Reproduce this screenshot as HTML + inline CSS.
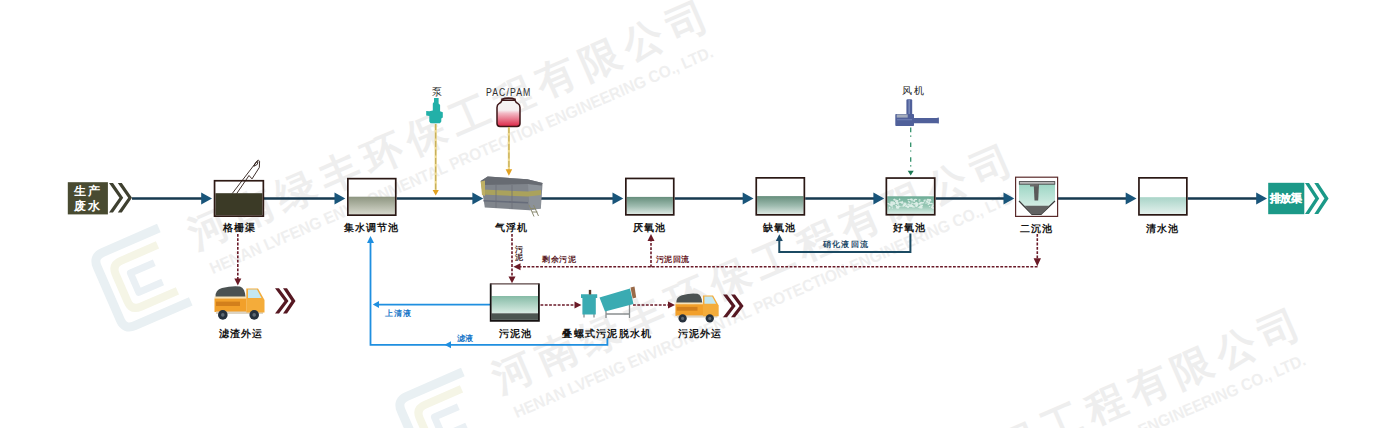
<!DOCTYPE html>
<html><head><meta charset="utf-8">
<style>
html,body{margin:0;padding:0;background:#fff;width:1400px;height:428px;overflow:hidden}
svg{position:absolute;left:0;top:0;display:block}
text{font-family:"Liberation Sans",sans-serif}
.lb{font-size:10px;font-weight:bold;fill:#151515;letter-spacing:1px;stroke:none}
.sm{font-size:7.5px;font-weight:bold}
</style></head><body>
<svg width="1400" height="428" viewBox="0 0 1400 428">
<defs>
  <linearGradient id="gTank1" x1="0" y1="0" x2="0" y2="1">
    <stop offset="0" stop-color="#8d9580"/><stop offset="1" stop-color="#d6d8cc"/>
  </linearGradient>
  <linearGradient id="gTank2" x1="0" y1="0" x2="0" y2="1">
    <stop offset="0" stop-color="#668e7c"/><stop offset="0.55" stop-color="#9fbcb0"/><stop offset="1" stop-color="#dce8e2"/>
  </linearGradient>
  <linearGradient id="gClear" x1="0" y1="0" x2="0" y2="1">
    <stop offset="0" stop-color="#a9d4c8"/><stop offset="1" stop-color="#e4f1ed"/>
  </linearGradient>
  <linearGradient id="gSludge" x1="0" y1="0" x2="0" y2="1">
    <stop offset="0" stop-color="#86bba6"/><stop offset="1" stop-color="#d9ece4"/>
  </linearGradient>
  <linearGradient id="gJar" x1="0" y1="0" x2="0" y2="1">
    <stop offset="0" stop-color="#f4f4f4"/><stop offset="0.38" stop-color="#f6eef0"/><stop offset="0.5" stop-color="#f2b8c4"/><stop offset="1" stop-color="#dc2646"/>
  </linearGradient>
  <linearGradient id="gSed" x1="0" y1="0" x2="0" y2="1">
    <stop offset="0" stop-color="#9cd6c4"/><stop offset="1" stop-color="#e8f5f0"/>
  </linearGradient>
  <linearGradient id="gAer" x1="0" y1="0" x2="0" y2="1">
    <stop offset="0" stop-color="#6aa892"/><stop offset="0.15" stop-color="#7ab6a0"/><stop offset="0.6" stop-color="#9ccab8"/><stop offset="1" stop-color="#dcefe8"/>
  </linearGradient>
</defs>

<!-- ===== WATERMARKS (placeholder) ===== -->
<g id="wm">
<g transform="translate(209 228) rotate(-23.5)">
  <text x="-20" y="14.5" style="font-size:40px;font-weight:bold;letter-spacing:7.3px;fill:#eeeeee">河南绿丰环保工程有限公司</text>
  <text x="-15" y="44" textLength="547" lengthAdjust="spacingAndGlyphs" style="font-size:16.5px;font-weight:bold;fill:#efefef">HENAN LVFENG ENVIRONMENTAL PROTECTION ENGINEERING CO., LTD.</text>
  <g fill="none" stroke-linejoin="round" transform="translate(-80 20)">
    <path d="M34 -40H-27Q-38 -40 -38 -29V29Q-38 40 -27 40H34" stroke="#e9f0f3" stroke-width="9"/>
    <path d="M26 -25H-14Q-24 -25 -24 -15V15Q-24 25 -14 25H26" stroke="#f5f5e6" stroke-width="8"/><path d="M16 -10H-10V11H16" stroke="#eaf0f4" stroke-width="7"/>
  </g>
</g>
<g transform="translate(513 372) rotate(-23.5)">
  <text x="-20" y="14.5" style="font-size:40px;font-weight:bold;letter-spacing:7.3px;fill:#eeeeee">河南绿丰环保工程有限公司</text>
  <text x="-15" y="44" textLength="547" lengthAdjust="spacingAndGlyphs" style="font-size:16.5px;font-weight:bold;fill:#efefef">HENAN LVFENG ENVIRONMENTAL PROTECTION ENGINEERING CO., LTD.</text>
  <g fill="none" stroke-linejoin="round" transform="translate(-80 20)">
    <path d="M34 -40H-27Q-38 -40 -38 -29V29Q-38 40 -27 40H34" stroke="#e9f0f3" stroke-width="9"/>
    <path d="M26 -25H-14Q-24 -25 -24 -15V15Q-24 25 -14 25H26" stroke="#f5f5e6" stroke-width="8"/><path d="M16 -10H-10V11H16" stroke="#eaf0f4" stroke-width="7"/>
  </g>
</g>
<g transform="translate(801.5 536) rotate(-23.5)">
  <text x="-20" y="14.5" style="font-size:40px;font-weight:bold;letter-spacing:7.3px;fill:#eeeeee">河南绿丰环保工程有限公司</text>
  <text x="-15" y="44" textLength="547" lengthAdjust="spacingAndGlyphs" style="font-size:16.5px;font-weight:bold;fill:#efefef">HENAN LVFENG ENVIRONMENTAL PROTECTION ENGINEERING CO., LTD.</text>
  <g fill="none" stroke-linejoin="round" transform="translate(-80 20)">
    <path d="M34 -40H-27Q-38 -40 -38 -29V29Q-38 40 -27 40H34" stroke="#e9f0f3" stroke-width="9"/>
    <path d="M26 -25H-14Q-24 -25 -24 -15V15Q-24 25 -14 25H26" stroke="#f5f5e6" stroke-width="8"/><path d="M16 -10H-10V11H16" stroke="#eaf0f4" stroke-width="7"/>
  </g>
</g>
</g>

<!-- ===== MAIN FLOW LINE ===== -->
<path d="M132 198.5H203M264 198.5H336.3M396.6 198.5H474.2M540 198.5H614.3M674.6 198.5H744.5M805.2 198.5H875.2M935.6 198.5H1005.3M1057.6 198.5H1127.5M1187.7 198.5H1258" stroke="#173a50" stroke-width="2.7" fill="none"/>
<g fill="#19557a">
  <path d="M201.2 192.4L212 198.5L201.2 204.6Z"/>
  <path d="M334.5 192.4L345.3 198.5L334.5 204.6Z"/>
  <path d="M472.4 192.4L483.2 198.5L472.4 204.6Z"/>
  <path d="M612.5 192.4L623.3 198.5L612.5 204.6Z"/>
  <path d="M742.7 192.4L753.5 198.5L742.7 204.6Z"/>
  <path d="M873.4 192.4L884.2 198.5L873.4 204.6Z"/>
  <path d="M1003.5 192.4L1014.3 198.5L1003.5 204.6Z"/>
  <path d="M1125.7 192.4L1136.5 198.5L1125.7 204.6Z"/>
  <path d="M1256.2 192.4L1267 198.5L1256.2 204.6Z"/>
</g>

<!-- ===== SOURCE: 生产废水 ===== -->
<rect x="67.8" y="182.2" width="40.1" height="32.2" fill="#494b31"/>
<text x="74.2" y="195.3" style="font-size:12px;font-weight:bold;fill:#fff;letter-spacing:1.6px">生产</text>
<text x="74.2" y="209.8" style="font-size:12px;font-weight:bold;fill:#fff;letter-spacing:1.6px">废水</text>
<g fill="#3f4030">
  <path d="M109 183H113L123.2 197.8L113 212.6H109L119.4 197.8Z"/>
  <path d="M117.8 183H121.8L132 197.8L121.8 212.6H117.8L128.2 197.8Z"/>
</g>

<!-- ===== 格栅渠 ===== -->
<rect x="215.4" y="193.2" width="47.1" height="22.1" fill="#3b3a26"/>
<rect x="214.55" y="180.75" width="48.80" height="35.40" fill="none" stroke="#2e1a14" stroke-width="1.7"/>
<g fill="none" stroke="#2a1a14" stroke-width="0.9">
  <path d="M232.3 193.4L256 162.5Q258 158.8 259.6 161.2L259.3 167.5L252 178.9L249 175.5L236.8 193.4"/>
  <path d="M253.8 166.3Q255.5 161 258 161.6Q258.6 164.8 253.8 166.3Z"/>
</g>
<text class="lb" x="222.7" y="231.1">格栅渠</text>

<!-- ===== 集水调节池 ===== -->
<rect x="348.7" y="196.7" width="46.2" height="17.6" fill="url(#gTank1)"/>
<rect x="347.85" y="178.65" width="47.90" height="36.50" fill="none" stroke="#2a1814" stroke-width="1.7"/>
<text class="lb" x="343.8" y="231.1">集水调节池</text>

<!-- ===== 泵 + PAC/PAM ===== -->
<text x="432.2" y="94.7" style="font-size:10px;fill:#222">泵</text>
<g fill="#22b0a8">
  <path d="M434 98H438.6V103.5L440.1 105V111.3L442.8 112.3V117.5L441.3 118.5V121.6L440 123.3H430.5L429.3 121.6V116L426.2 115.5V111L429.3 111.2L432.8 110.5V103.5L434 102Z"/>
</g>
<text transform="translate(486 95.6) scale(0.83 1)" x="0" y="0" style="font-size:10.5px;fill:#2e2e2e;letter-spacing:1.3px">PAC/PAM</text>
<path d="M502 100.3Q501.3 102.6 499 103.6Q497 104.6 497 107.5V123.5Q497 126.4 500 126.4H517Q520 126.4 520 123.5V107.5Q520 104.6 518 103.6Q515.7 102.6 515 100.3Z" fill="url(#gJar)" stroke="#3e1618" stroke-width="1.5"/>
<path d="M501.3 99.6Q508.5 96.8 515.7 99.6" fill="none" stroke="#3e1618" stroke-width="1.8"/>

<!-- dashed orange lines -->
<g fill="none">
  <path d="M435.7 124V190.5M508.9 127V170" stroke="#eed98e" stroke-width="2.2"/>
  <path d="M435.7 124V190.5M508.9 127V170" stroke="#b9a24c" stroke-width="0.9" stroke-dasharray="6 2.5"/>
</g>
<g fill="#e2a222">
  <path d="M432.6 190H438.8L435.7 195.5Z"/>
  <path d="M505.6 169.3H512.2L508.9 175.8Z"/>
</g>

<!-- ===== 气浮机 ===== -->
<g>
  <path d="M480.7 181.1L487.7 176.4L527.4 179.3L542.6 182.9L540.8 208.5L529.7 210.3L484.8 207.4Z" fill="#80858c"/>
  <path d="M528 184L541.5 185.5L540.8 208.5L529.7 210.3Z" fill="#8c9299"/>
  <path d="M480.7 181.1L487.7 176.4L527.4 179.3L542.6 182.9L541.5 185.5L528 184L482 185Z" fill="#676b72"/>
  <path d="M482 189.5L528 191.5L541 190V195L528 196.5L482 194.5Z" fill="#aaa25c"/>
  <path d="M480.7 181.5L485 180.5V196L482 195Z" fill="#bfb064"/>
  <path d="M483.5 200L528 202V203.6L483.5 201.6Z" fill="#666c7a"/>
  <path d="M496 185V207.8M512 185V208.8" stroke="#6c7078" stroke-width="0.8"/>
  <path d="M529 205L534 216.5M533.5 205L538.5 216M530.5 208.5H535.5M532 212H537.5" stroke="#8a8a70" stroke-width="1" fill="none"/>
</g>
<text class="lb" x="494.6" y="231.3">气浮机</text>

<!-- ===== 厌氧池 ===== -->
<rect x="626.7" y="196.9" width="46.2" height="17.1" fill="url(#gTank2)"/>
<rect x="625.85" y="178.45" width="47.90" height="36.40" fill="none" stroke="#2a1814" stroke-width="1.7"/>
<text class="lb" x="632.6" y="231.3">厌氧池</text>

<!-- ===== 缺氧池 ===== -->
<rect x="757.1" y="196.1" width="46.4" height="17.9" fill="url(#gTank2)"/>
<rect x="756.25" y="177.85" width="48.10" height="37.00" fill="none" stroke="#2a1814" stroke-width="1.7"/>
<text class="lb" x="763.4" y="231.3">缺氧池</text>

<!-- ===== 风机 ===== -->
<text x="902.2" y="94" style="font-size:9.5px;fill:#222;letter-spacing:1.5px">风机</text>
<g fill="#50609a">
  <path d="M906.4 100.5Q906.4 99.3 907.6 99.3H911Q912.2 99.3 912.2 100.5V115.3H906.4Z"/>
  <rect x="895.3" y="114" width="18.7" height="12" rx="0.8"/>
  <path d="M913.5 118H936.5L938.9 117.6V123.5L936.5 123.3H913.5Z"/>
</g>
<rect x="908.4" y="100" width="1.6" height="14" fill="#7888b8"/>
<rect x="896.7" y="114.4" width="11" height="3.2" fill="#a4acbc"/>
<rect x="897" y="119" width="15" height="1.3" fill="#6a7ab0"/>
<g stroke="#2f8f68" stroke-width="1.3" stroke-dasharray="4.6 3.4 1.2 5.6" fill="none"><path d="M910.7 127.6V171"/></g>
<path d="M907.7 170.8H913.7L910.7 175.5Z" fill="#1f7a55"/>

<!-- ===== 好氧池 ===== -->
<rect x="887.2" y="196.3" width="46.7" height="17.6" fill="url(#gAer)"/>
<g fill="#eef8f4" opacity="0.8"><ellipse cx="908.6" cy="204.2" rx="1.5" ry="0.8"/><ellipse cx="911.2" cy="204.5" rx="0.7" ry="0.8"/><ellipse cx="916.8" cy="206.3" rx="0.6" ry="0.6"/><ellipse cx="892.0" cy="206.4" rx="1.3" ry="0.4"/><ellipse cx="933.0" cy="207.8" rx="1.2" ry="0.9"/><ellipse cx="895.0" cy="199.4" rx="1.1" ry="0.4"/><ellipse cx="896.5" cy="201.4" rx="0.5" ry="0.8"/><ellipse cx="908.1" cy="206.7" rx="1.1" ry="0.9"/><ellipse cx="910.8" cy="205.1" rx="1.0" ry="0.6"/><ellipse cx="933.7" cy="208.1" rx="1.4" ry="1.0"/><ellipse cx="902.3" cy="201.3" rx="0.8" ry="0.5"/><ellipse cx="923.0" cy="202.8" rx="1.4" ry="0.7"/><ellipse cx="931.9" cy="206.8" rx="0.5" ry="0.6"/><ellipse cx="929.7" cy="203.4" rx="1.6" ry="0.7"/><ellipse cx="891.2" cy="204.8" rx="1.4" ry="0.6"/><ellipse cx="891.8" cy="202.2" rx="1.6" ry="1.0"/><ellipse cx="893.2" cy="201.5" rx="0.6" ry="0.4"/><ellipse cx="924.5" cy="200.9" rx="1.1" ry="0.8"/><ellipse cx="896.6" cy="205.7" rx="0.6" ry="0.9"/><ellipse cx="893.2" cy="203.0" rx="0.7" ry="0.6"/><ellipse cx="932.5" cy="206.4" rx="0.8" ry="1.1"/><ellipse cx="897.5" cy="202.8" rx="1.4" ry="0.9"/><ellipse cx="892.4" cy="208.0" rx="0.7" ry="0.6"/><ellipse cx="923.3" cy="202.2" rx="0.8" ry="0.5"/><ellipse cx="891.9" cy="204.4" rx="0.8" ry="0.9"/><ellipse cx="904.9" cy="203.3" rx="1.6" ry="0.8"/><ellipse cx="914.2" cy="206.9" rx="0.7" ry="0.5"/><ellipse cx="929.6" cy="206.5" rx="0.8" ry="0.6"/><ellipse cx="921.8" cy="207.6" rx="0.7" ry="1.2"/><ellipse cx="928.4" cy="204.6" rx="1.0" ry="0.5"/><ellipse cx="889.6" cy="207.8" rx="0.8" ry="1.0"/><ellipse cx="899.6" cy="206.5" rx="1.2" ry="0.6"/><ellipse cx="895.9" cy="205.6" rx="0.6" ry="0.6"/><ellipse cx="913.5" cy="206.8" rx="1.2" ry="0.6"/><ellipse cx="930.0" cy="201.1" rx="0.5" ry="0.6"/><ellipse cx="908.3" cy="199.8" rx="0.7" ry="0.7"/><ellipse cx="914.1" cy="200.5" rx="0.9" ry="1.1"/><ellipse cx="932.9" cy="205.1" rx="1.3" ry="0.9"/><ellipse cx="894.3" cy="199.6" rx="0.5" ry="1.1"/><ellipse cx="920.0" cy="207.8" rx="0.5" ry="0.9"/><ellipse cx="910.0" cy="205.7" rx="0.9" ry="1.2"/><ellipse cx="891.3" cy="204.1" rx="1.3" ry="1.1"/><ellipse cx="921.7" cy="205.5" rx="1.4" ry="1.1"/><ellipse cx="904.0" cy="205.3" rx="1.5" ry="1.1"/><ellipse cx="907.0" cy="206.3" rx="1.4" ry="0.9"/><ellipse cx="916.5" cy="202.7" rx="1.1" ry="0.9"/><ellipse cx="891.5" cy="204.9" rx="1.6" ry="1.1"/><ellipse cx="921.3" cy="202.7" rx="1.3" ry="0.9"/><ellipse cx="908.1" cy="206.7" rx="0.6" ry="1.0"/><ellipse cx="889.2" cy="204.6" rx="1.0" ry="0.6"/><ellipse cx="919.9" cy="203.7" rx="1.2" ry="1.1"/><ellipse cx="899.6" cy="199.4" rx="0.8" ry="0.9"/><ellipse cx="897.1" cy="200.8" rx="1.5" ry="0.9"/><ellipse cx="908.1" cy="207.1" rx="0.9" ry="0.9"/><ellipse cx="896.9" cy="203.1" rx="1.4" ry="1.1"/><ellipse cx="928.3" cy="202.7" rx="1.1" ry="0.7"/><ellipse cx="894.1" cy="203.7" rx="1.4" ry="1.1"/><ellipse cx="920.5" cy="207.7" rx="0.8" ry="0.5"/><ellipse cx="908.5" cy="201.7" rx="0.7" ry="0.7"/><ellipse cx="916.6" cy="203.6" rx="0.8" ry="1.1"/><ellipse cx="933.0" cy="203.3" rx="0.6" ry="0.4"/><ellipse cx="928.0" cy="199.7" rx="1.3" ry="0.9"/><ellipse cx="902.0" cy="206.3" rx="0.5" ry="0.5"/><ellipse cx="908.7" cy="199.5" rx="1.4" ry="0.6"/><ellipse cx="894.3" cy="199.7" rx="1.2" ry="0.8"/><ellipse cx="916.8" cy="205.1" rx="1.4" ry="1.2"/><ellipse cx="919.3" cy="201.1" rx="1.0" ry="0.5"/><ellipse cx="888.3" cy="203.5" rx="1.3" ry="0.5"/><ellipse cx="900.3" cy="202.3" rx="1.3" ry="0.8"/><ellipse cx="916.1" cy="206.0" rx="0.9" ry="1.0"/><ellipse cx="929.5" cy="200.1" rx="1.5" ry="1.0"/><ellipse cx="893.8" cy="203.3" rx="1.2" ry="1.1"/><ellipse cx="905.1" cy="204.3" rx="1.5" ry="1.0"/><ellipse cx="931.2" cy="203.4" rx="1.2" ry="0.6"/><ellipse cx="921.0" cy="206.5" rx="1.2" ry="1.0"/><ellipse cx="897.6" cy="207.2" rx="1.6" ry="1.2"/><ellipse cx="912.5" cy="206.3" rx="0.9" ry="1.1"/><ellipse cx="927.2" cy="202.4" rx="0.6" ry="0.8"/><ellipse cx="913.1" cy="206.1" rx="1.0" ry="0.4"/><ellipse cx="925.0" cy="199.9" rx="1.4" ry="0.5"/><ellipse cx="903.2" cy="206.2" rx="0.7" ry="0.5"/><ellipse cx="911.6" cy="205.7" rx="1.4" ry="1.0"/><ellipse cx="931.3" cy="203.6" rx="1.5" ry="0.5"/><ellipse cx="898.0" cy="203.9" rx="0.8" ry="1.0"/><ellipse cx="917.2" cy="203.9" rx="1.4" ry="0.8"/><ellipse cx="902.1" cy="202.7" rx="1.4" ry="1.1"/><ellipse cx="897.4" cy="206.8" rx="1.6" ry="0.8"/><ellipse cx="914.2" cy="201.1" rx="1.1" ry="0.8"/><ellipse cx="915.6" cy="199.5" rx="1.6" ry="0.8"/><ellipse cx="906.2" cy="206.3" rx="1.1" ry="0.8"/><ellipse cx="919.6" cy="199.9" rx="1.1" ry="0.7"/><ellipse cx="931.8" cy="207.4" rx="0.8" ry="0.8"/><ellipse cx="893.6" cy="203.1" rx="1.4" ry="1.1"/><ellipse cx="909.7" cy="202.1" rx="0.7" ry="0.9"/><ellipse cx="930.4" cy="200.4" rx="1.4" ry="0.4"/><ellipse cx="896.7" cy="201.3" rx="1.3" ry="0.7"/><ellipse cx="904.1" cy="204.8" rx="0.6" ry="1.0"/><ellipse cx="893.4" cy="203.8" rx="0.8" ry="0.6"/><ellipse cx="912.2" cy="203.1" rx="0.9" ry="0.7"/><ellipse cx="912.1" cy="200.7" rx="0.7" ry="0.9"/><ellipse cx="917.2" cy="204.0" rx="1.4" ry="0.9"/><ellipse cx="927.2" cy="201.3" rx="1.3" ry="1.0"/><ellipse cx="929.3" cy="202.1" rx="0.8" ry="1.1"/><ellipse cx="897.8" cy="208.1" rx="1.5" ry="0.5"/><ellipse cx="898.8" cy="205.7" rx="0.8" ry="0.5"/><ellipse cx="926.1" cy="203.0" rx="1.4" ry="0.5"/><ellipse cx="906.3" cy="205.3" rx="0.5" ry="0.6"/><ellipse cx="919.2" cy="207.3" rx="1.6" ry="0.5"/><ellipse cx="911.1" cy="206.0" rx="1.1" ry="0.9"/><ellipse cx="896.5" cy="199.9" rx="0.6" ry="0.4"/><ellipse cx="913.2" cy="203.8" rx="1.1" ry="0.5"/><ellipse cx="896.3" cy="201.1" rx="1.4" ry="1.2"/><ellipse cx="930.4" cy="200.1" rx="0.6" ry="1.2"/><ellipse cx="909.1" cy="206.0" rx="0.9" ry="0.8"/><ellipse cx="911.5" cy="203.1" rx="1.2" ry="0.4"/><ellipse cx="920.0" cy="206.7" rx="0.7" ry="0.8"/><ellipse cx="921.8" cy="202.9" rx="0.7" ry="0.5"/><ellipse cx="911.4" cy="199.4" rx="1.5" ry="1.0"/><ellipse cx="920.2" cy="206.9" rx="1.2" ry="0.7"/><ellipse cx="915.4" cy="203.7" rx="1.6" ry="1.0"/></g>
<rect x="886.35" y="178.05" width="48.40" height="36.70" fill="none" stroke="#2a1814" stroke-width="1.7"/>
<text class="lb" x="893.4" y="231.3">好氧池</text>

<!-- ===== 二沉池 ===== -->
<rect x="1015.6" y="177.2" width="42" height="39.2" fill="#fff" stroke="#5a2a2a" stroke-width="1.2"/>
<path d="M1019 184H1055V201L1041 214.3H1032L1019 201Z" fill="url(#gSed)"/>
<path d="M1019 201L1032 214.3H1041L1055 201" fill="none" stroke="#3a3a3a" stroke-width="1.2"/>
<path d="M1024.5 205.8H1049.5L1041 214.3H1032Z" fill="#626262"/>
<rect x="1019.3" y="181.6" width="35.5" height="2.6" fill="#b8b8b8" stroke="#3e3e3e" stroke-width="0.8"/>
<path d="M1033.7 184H1039L1038.2 200.5H1034.5Z" fill="#5a5a5a"/><rect x="1030" y="184.3" width="8" height="2.2" fill="#6a6a6a"/>
<text class="lb" x="1020" y="231.5">二沉池</text>

<!-- ===== 清水池 ===== -->
<rect x="1139.8" y="197.2" width="46.2" height="16.8" fill="url(#gClear)"/>
<rect x="1138.95" y="177.85" width="47.90" height="37.00" fill="none" stroke="#2a1814" stroke-width="1.7"/>
<text class="lb" x="1146" y="231.5">清水池</text>

<!-- ===== 排放渠 ===== -->
<rect x="1268.2" y="182.8" width="36.1" height="31.4" fill="#1b9988"/>
<text x="1269.7" y="202.2" style="font-size:11px;font-weight:bold;fill:#fff;letter-spacing:-0.2px;stroke:#fff;stroke-width:0.25px">排放渠</text>
<g fill="#1b9988">
  <path d="M1305 183H1309L1319.2 198.5L1309 214H1305L1315.2 198.5Z"/>
  <path d="M1314.3 183H1318.3L1328.6 198.5L1318.3 214H1314.3L1324.4 198.5Z"/>
</g>

<!-- ===== RED DASHED LINES ===== -->
<g stroke="#6a1a28" stroke-width="1.6" stroke-dasharray="2.8 1.5" fill="none">
  <path d="M237.8 234V279"/>
  <path d="M512 234V277"/>
  <path d="M1037.3 234V259"/>
  <path d="M1037.5 266.8H519"/>
  <path d="M651 267.2V240"/>
  <path d="M540.5 305H575"/>
  <path d="M633 305H668"/>
</g>
<g fill="#6a1a26">
  <path d="M234.3 278.5H241.3L237.8 285.5Z"/>
  <path d="M508.5 276.5H515.5L512 283.3Z"/>
  <path d="M1033.6 258.2H1041L1037.3 266.3Z"/>
  <path d="M520.5 263.3V270.3L513.4 266.8Z"/>
  <path d="M647.5 241H654.5L651 234Z"/>
  <path d="M574.5 301.5V308.5L581.4 305Z"/>
  <path d="M668 301.5V308.5L675 305Z"/>
</g>
<text class="sm" x="514.7" y="251.6" style="fill:#4a2e30;font-size:8px">污</text>
<text class="sm" x="514.7" y="260.3" style="fill:#4a2e30;font-size:8px">泥</text>
<text class="sm" x="542.3" y="261.9" style="fill:#5a1a26;letter-spacing:0.5px">剩余污泥</text>
<text class="sm" x="655.7" y="262.4" style="fill:#6a1a26;font-size:8px;letter-spacing:0.5px">污泥回流</text>

<!-- ===== NITRATE RETURN ===== -->
<path d="M910.4 233.5V252H779.3V240" fill="none" stroke="#1b4a62" stroke-width="2"/>
<path d="M775.8 241H782.8L779.3 234.3Z" fill="#1d4a68"/>
<text class="sm" x="822.8" y="247.1" style="fill:#1d4a68;letter-spacing:1.3px">硝化液回流</text>

<!-- ===== LIGHT BLUE RETURN ===== -->
<g fill="none" stroke="#1f8fe0" stroke-width="1.8">
  <path d="M607.4 338V344.8H370.5V242"/>
  <path d="M490 304.6H378"/>
</g>
<g fill="#1f8fe0">
  <path d="M367 243H374L370.5 236Z"/>
  <path d="M379 301.1V308.1L372.8 304.6Z"/>
  <path d="M451 341.3V348.3L444.5 344.8Z"/>
</g>
<text class="sm" x="385.4" y="315.5" style="fill:#1a78c8;letter-spacing:0.9px">上清液</text>
<text class="sm" x="457.4" y="341.3" style="fill:#1a78c8;letter-spacing:0.1px">滤液</text>

<!-- ===== 污泥池 ===== -->
<rect x="491.5" y="296" width="46.6" height="17.3" fill="url(#gSludge)"/>
<rect x="491.5" y="313.3" width="46.6" height="6.6" fill="#4c5551"/>
<path d="M490.7 283.4V320.8H538.9V283.4" fill="none" stroke="#161212" stroke-width="1.8"/>
<path d="M490.2 283.9H539.4" stroke="#5a4444" stroke-width="1.1"/>
<text class="lb" x="498.8" y="336.9">污泥池</text>

<!-- ===== 叠螺式污泥脱水机 ===== -->
<g>
  <path d="M584 314V317.5M594 314V317.5M606 310V318M629.5 303V318M606 314H629.5" stroke="#8a8f90" stroke-width="1.3" fill="none"/>
  <path d="M581 294.3H597.2V298H595.8V314.5H582.4V298H581Z" fill="#3aabb2"/>
  <rect x="588.8" y="289.9" width="2.4" height="4.6" fill="#5a3a2a"/>
  <path d="M599.5 297.5L630 288.5L633.5 304L605 311.5Z" fill="#3aabb2"/>
  <path d="M630.5 287.5L634.5 286.5L636.2 297.5L632.7 298.5Z" fill="#9a6a48"/>
</g>
<text class="lb" x="562.3" y="336.9" style="letter-spacing:1.28px">叠螺式污泥脱水机</text>

<!-- ===== TRUCK 1 ===== -->
<g transform="translate(214 286)">
  <path d="M1.5 11Q1 4 8 2Q18 -0.5 26 0.5Q31 2 31.5 11Z" fill="#4b5252"/>
  <rect x="0.5" y="10.5" width="32" height="2.2" fill="#f6e2b8"/>
  <rect x="0.5" y="12.5" width="32" height="13.5" fill="#f2a02a"/>
  <rect x="2" y="15.6" width="24" height="4.4" fill="#d27f1c"/>
  <rect x="2" y="25.5" width="47" height="2.5" fill="#dcd4c4"/>
  <path d="M32.3 2.4H44L50.5 14V26.5H32.3Z" fill="#f4ac3a"/>
  <path d="M34 3.5H43L47.5 12H34Z" fill="#c4e8f2"/>
  <circle cx="8.8" cy="28.9" r="4.8" fill="#26313d"/><circle cx="8.8" cy="28.9" r="1.8" fill="#5f6a74"/>
  <circle cx="40.2" cy="28.9" r="4.8" fill="#26313d"/><circle cx="40.2" cy="28.9" r="1.8" fill="#5f6a74"/>
</g>
<g fill="#561822">
  <path d="M275 288.3H279L288.5 301L279 313.6H275L284.5 301Z"/>
  <path d="M283 288.3H287L295.5 301L287 313.6H283L291.5 301Z"/>
</g>
<text class="lb" x="218.8" y="336.6">滤渣外运</text>

<!-- ===== TRUCK 2 ===== -->
<g transform="translate(675 293.4) scale(0.865)">
  <path d="M1.5 11Q1 4 8 2Q18 -0.5 26 0.5Q31 2 31.5 11Z" fill="#4b5252"/>
  <rect x="0.5" y="10.5" width="32" height="2.2" fill="#f6e2b8"/>
  <rect x="0.5" y="12.5" width="32" height="13.5" fill="#f2a02a"/>
  <rect x="2" y="15.6" width="24" height="4.4" fill="#d27f1c"/>
  <rect x="2" y="25.5" width="47" height="2.5" fill="#dcd4c4"/>
  <path d="M32.3 2.4H44L50.5 14V26.5H32.3Z" fill="#f4ac3a"/>
  <path d="M34 3.5H43L47.5 12H34Z" fill="#c4e8f2"/>
  <circle cx="8.8" cy="28.9" r="4.8" fill="#26313d"/><circle cx="8.8" cy="28.9" r="1.8" fill="#5f6a74"/>
  <circle cx="40.2" cy="28.9" r="4.8" fill="#26313d"/><circle cx="40.2" cy="28.9" r="1.8" fill="#5f6a74"/>
</g>
<g fill="#561822">
  <path d="M723 294.5H727L735.6 306L727 317.3H723L731.6 306Z"/>
  <path d="M731 294.5H735L743.6 306L735 317.3H731L739.6 306Z"/>
</g>
<text class="lb" x="677.7" y="336.6">污泥外运</text>

</svg>
</body></html>
